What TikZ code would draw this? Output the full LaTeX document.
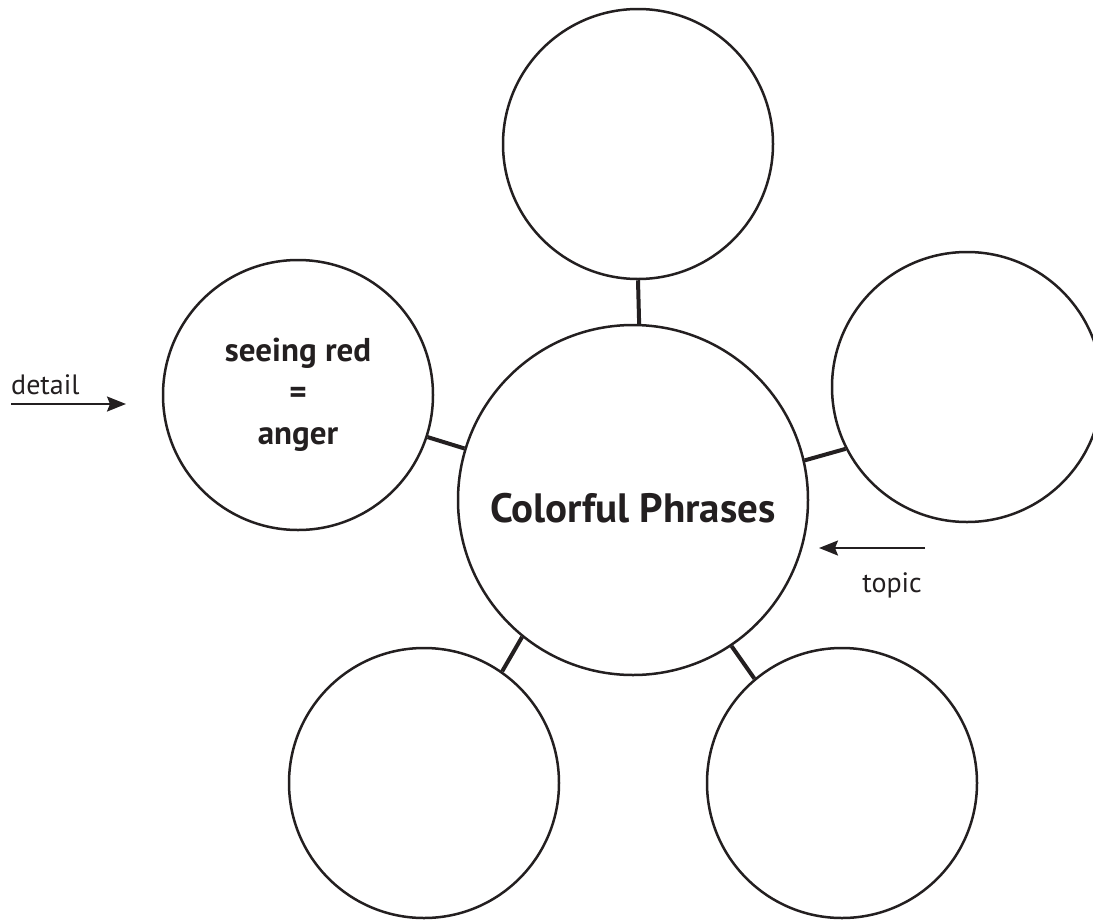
\documentclass[tikz,border=0pt]{standalone}
\usepackage{fontspec}
\setmainfont{PT Sans}
\usetikzlibrary{arrows.meta}
\definecolor{ink}{HTML}{231F20}
\begin{document}
\begin{tikzpicture}[x=1pt,y=-1pt,
  bubble/.style={circle, draw=ink, line width=2.5pt, minimum size=270pt, inner sep=0pt, text=ink},
  hub/.style={circle, draw=ink, line width=2.5pt, minimum size=350pt, inner sep=0pt, text=ink},
  link/.style={draw=ink, line width=4pt},
  pointer/.style={draw=ink, line width=2pt, -{Stealth[length=19pt,width=15pt,inset=3pt]}},
  note/.style={text=ink, font=\fontsize{28}{34}\selectfont, inner sep=0pt}]
\useasboundingbox (0,0) rectangle (1093,919);
\clip (0,0) rectangle (1093,919);
% circles
\node[hub, font=\bfseries\fontsize{41}{48}\selectfont, text height=44pt, text depth=0pt] (hub) at (633,500) {Colorful Phrases};
\node[bubble] (top) at (638,144) {};
\node[bubble, align=center, font=\bfseries\fontsize{33}{41.5}\selectfont] (left) at (298,395) {seeing red\\=\\anger};
\node[bubble] (right) at (967,387) {};
\node[bubble] (bl) at (424,783) {};
\node[bubble] (br) at (842,783) {};
% links
\draw[link] (hub.88) -- (top.270);
\draw[link] (hub.163.4) -- (left.-18.4);
\draw[link] (hub.13.4) -- (right.207);
\draw[link] (hub.231.7) -- (bl.55.6);
\draw[link] (hub.304) -- (br.130.2);
% labels with arrows
\node[note, anchor=base west] (detail) at (11,394) {detail};
\coordinate (d0) at (11,404);
\coordinate (d1) at (126,404);
\draw[pointer] (d0) -- (d1);
\node[note, anchor=base east] (topic) at (922,592) {topic};
\coordinate (t0) at (925,548);
\coordinate (t1) at (819,548);
\draw[pointer] (t0) -- (t1);
\end{tikzpicture}
\end{document}
